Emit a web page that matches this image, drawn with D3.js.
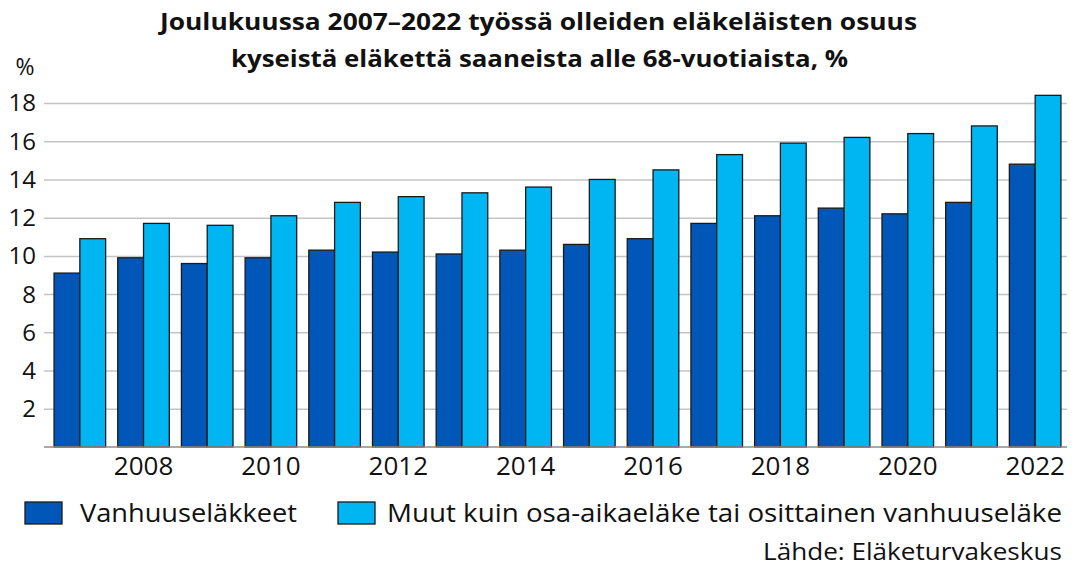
<!DOCTYPE html>
<html>
<head>
<meta charset="utf-8">
<script src="https://cdn.jsdelivr.net/npm/d3@7"></script>
<style>
  body { margin: 0; background: #fff; }
  svg { display: block; font-family: "Open Sans", sans-serif; }
  .grid line { stroke: #c4c4c4; stroke-width: 1.5; }
  .grid path { display: none; }
</style>
</head>
<body>
<div class="chart"></div>
<script>
var years = ["2007","2008","2009","2010","2011","2012","2013","2014","2015","2016","2017","2018","2019","2020","2021","2022"];
var vanhuus = [9.1, 9.9, 9.6, 9.9, 10.3, 10.2, 10.1, 10.3, 10.6, 10.9, 11.7, 12.1, 12.5, 12.2, 12.8, 14.8];
var muut = [10.9, 11.7, 11.6, 12.1, 12.8, 13.1, 13.3, 13.6, 14.0, 14.5, 15.3, 15.9, 16.2, 16.4, 16.8, 18.4];
var seriesNames = ["Vanhuuseläkkeet", "Muut kuin osa-aikaeläke tai osittainen vanhuuseläke"];
var yTicks = [2, 4, 6, 8, 10, 12, 14, 16, 18];
var colors = ["#0057b7", "#00b6f2"];

var svgWidth = 1077;
var svgHeight = 567;
var margin = { top: 103, right: 10, bottom: 120, left: 48 };
var width = svgWidth - margin.left - margin.right;
var height = 447 - margin.top;

var svg = d3.select(".chart")
  .append("svg")
  .attr("width", svgWidth)
  .attr("height", svgHeight);

// title (the original font is a bit wider, so stretch to its length)
var title = svg.append("text")
  .attr("font-weight", "bold")
  .attr("font-size", 23.5)
  .attr("fill", "#111");
title.append("tspan").attr("x", 160).attr("y", 30)
  .attr("textLength", 757).attr("lengthAdjust", "spacingAndGlyphs")
  .text("Joulukuussa 2007–2022 työssä olleiden eläkeläisten osuus");
title.append("tspan").attr("x", 231).attr("y", 67)
  .attr("textLength", 617).attr("lengthAdjust", "spacingAndGlyphs")
  .text("kyseistä eläkettä saaneista alle 68-vuotiaista, %");

var chart = svg.append("g")
  .attr("transform", `translate(${margin.left}, ${margin.top})`);

var y = d3.scaleLinear().domain([0, 18]).range([height, 0]);
var x0 = d3.scaleBand().domain(years).range([0, 1019]).paddingInner(0.19).paddingOuter(0.095);
var x1 = d3.scaleBand().domain([0, 1]).range([0, x0.bandwidth()]);

// gridlines
chart.append("g")
  .attr("class", "grid")
  .call(d3.axisLeft(y).tickValues(yTicks).tickSize(-1019).tickFormat(""))
  .call(function(g) { g.selectAll(".tick line").attr("x1", -4); });

// y labels
chart.append("g")
  .selectAll("text")
  .data(yTicks)
  .enter().append("text")
  .attr("x", -12)
  .attr("y", function(d) { return y(d); })
  .attr("dy", "0.35em")
  .attr("text-anchor", "end")
  .attr("font-size", 24)
  .attr("fill", "#111")
  .text(function(d) { return d; });

svg.append("text")
  .attr("x", 25)
  .attr("y", 75)
  .attr("text-anchor", "middle")
  .attr("font-size", 23)
  .attr("fill", "#111")
  .text("%");

// bars
var groups = chart.selectAll(".year")
  .data(years)
  .enter().append("g")
  .attr("class", "year")
  .attr("transform", function(d) { return `translate(${x0(d)}, 0)`; });

groups.selectAll("rect")
  .data(function(d, i) { return [vanhuus[i], muut[i]]; })
  .enter().append("rect")
  .attr("x", function(d, j) { return x1(j); })
  .attr("y", function(d) { return y(d); })
  .attr("width", x1.bandwidth())
  .attr("height", function(d) { return height - y(d); })
  .attr("fill", function(d, j) { return colors[j]; })
  .attr("stroke", "#1a1a1a")
  .attr("stroke-width", 1.3);

// baseline
chart.append("line")
  .attr("x1", -4).attr("x2", 1019)
  .attr("y1", height).attr("y2", height)
  .attr("stroke", "#8c8c8c")
  .attr("stroke-width", 1.5);

// x labels
chart.append("g")
  .selectAll("text")
  .data(years.filter(function(d, i) { return i % 2 === 1; }))
  .enter().append("text")
  .attr("x", function(d) { return x0(d) + x0.bandwidth() / 2; })
  .attr("y", height + 28)
  .attr("text-anchor", "middle")
  .attr("font-size", 26)
  .attr("fill", "#111")
  .text(function(d) { return d; });

// legend
var legendX = [25, 338];
var legendLen = [217, 675];
var legend = svg.selectAll(".legend")
  .data(seriesNames)
  .enter().append("g")
  .attr("class", "legend")
  .attr("transform", function(d, i) { return `translate(${legendX[i]}, 502)`; });

legend.append("rect")
  .attr("width", 37)
  .attr("height", 22)
  .attr("fill", function(d, i) { return colors[i]; })
  .attr("stroke", "#1a1a1a")
  .attr("stroke-width", 1.3);

legend.append("text")
  .attr("x", function(d, i) { return i === 0 ? 55 : 49; })
  .attr("y", 20)
  .attr("font-size", 25)
  .attr("fill", "#111")
  .attr("textLength", function(d, i) { return legendLen[i]; })
  .attr("lengthAdjust", "spacingAndGlyphs")
  .text(function(d) { return d; });

svg.append("text")
  .attr("x", 763)
  .attr("y", 560)
  .attr("font-size", 24)
  .attr("fill", "#111")
  .attr("textLength", 299)
  .attr("lengthAdjust", "spacingAndGlyphs")
  .text("Lähde: Eläketurvakeskus");
</script>
</body>
</html>
